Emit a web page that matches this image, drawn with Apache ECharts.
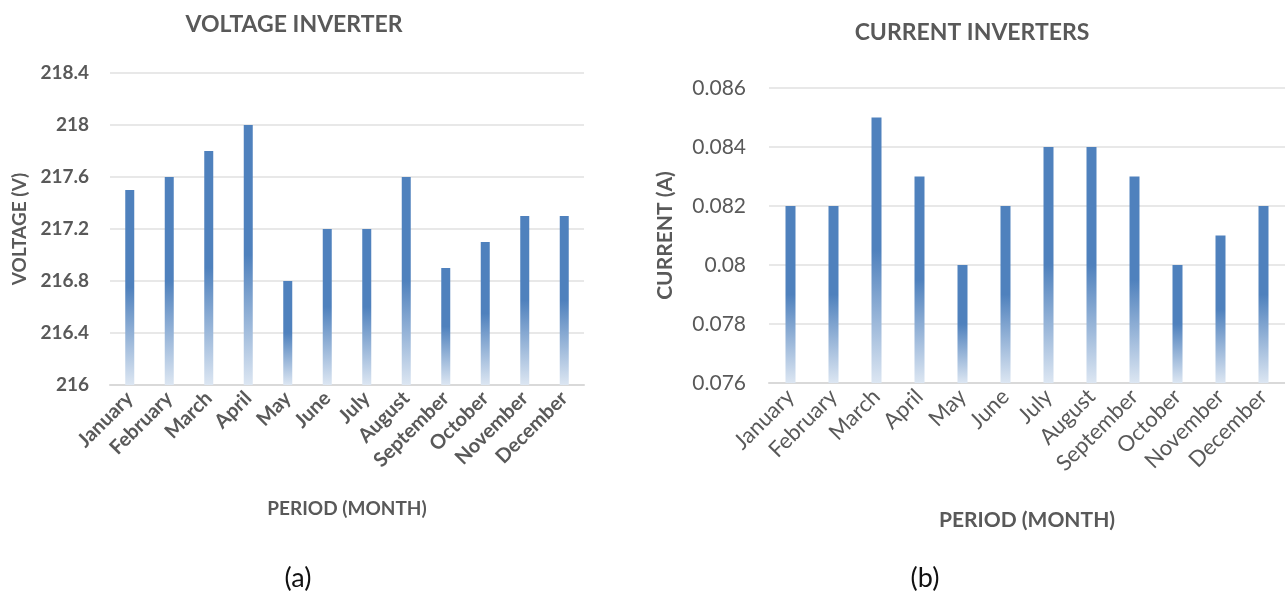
<!DOCTYPE html>
<html>
<head>
<meta charset="utf-8">
<script src="https://cdn.jsdelivr.net/npm/echarts@6/dist/echarts.min.js"></script>
<style>
  html, body { margin: 0; padding: 0; background: #fff; }
  #chart { width: 1285px; height: 593px; }
</style>
</head>
<body>
<div id="chart"></div>
<script>
// Monthly inverter readings
const months = ['January', 'February', 'March', 'April', 'May', 'June', 'July',
  'August', 'September', 'October', 'November', 'December'];
const voltage = [217.5, 217.6, 217.8, 218.0, 216.8, 217.2, 217.2, 217.6, 216.9, 217.1, 217.3, 217.3];
const current = [0.082, 0.082, 0.085, 0.083, 0.080, 0.082, 0.084, 0.084, 0.083, 0.080, 0.081, 0.082];

const FONT = 'Lato, "Open Sans", sans-serif';
const GREY = '#595959';

// Bars fade from solid blue in the upper half to a pale tint at the base
const barFill = new echarts.graphic.LinearGradient(0, 0, 0, 1, [
  { offset: 0, color: '#4F81BD' },
  { offset: 0.5, color: '#4F81BD' },
  { offset: 1, color: '#DCE6F2' }
]);

const chart = echarts.init(document.getElementById('chart'), null, { renderer: 'canvas' });

function catAxis(gridIndex, o) {
  return {
    type: 'category', gridIndex, data: months,
    axisTick: { show: false },
    axisLine: { lineStyle: { color: '#D9D9D9', width: 2 } },
    axisLabel: { interval: 0, rotate: 45, margin: 10, color: GREY, fontFamily: FONT,
      fontWeight: o.bold ? 'bold' : 'normal', fontSize: o.size },
    name: 'PERIOD (MONTH)', nameLocation: 'middle', nameGap: o.gap,
    nameTextStyle: { color: GREY, fontFamily: FONT, fontWeight: 'bold', fontSize: o.nameSize }
  };
}

function valAxis(gridIndex, o) {
  return {
    type: 'value', gridIndex, min: o.min, max: o.max, interval: o.interval,
    axisLine: { show: false }, axisTick: { show: false },
    splitLine: { lineStyle: { color: '#E0E0E0', width: 1.5 } },
    axisLabel: { margin: o.margin, color: GREY, fontFamily: FONT,
      fontWeight: o.bold ? 'bold' : 'normal', fontSize: o.size, formatter: o.fmt },
    name: o.name, nameLocation: 'middle', nameGap: o.gap,
    nameTextStyle: { color: GREY, fontFamily: FONT, fontWeight: 'bold', fontSize: o.nameSize }
  };
}

chart.setOption({
  animation: false,
  grid: [
    { left: 110, top: 73, width: 474, height: 312 },
    { left: 769, top: 88, width: 527, height: 295 }
  ],
  xAxis: [
    catAxis(0, { bold: true, size: 20, gap: 114, nameSize: 19 }),
    catAxis(1, { bold: false, size: 22, gap: 127, nameSize: 21 })
  ],
  yAxis: [
    valAxis(0, { min: 216, max: 218.4, interval: 0.4, name: 'VOLTAGE (V)', bold: true,
      size: 19, margin: 21, gap: 81, nameSize: 19, fmt: v => +v.toFixed(1) + '' }),
    valAxis(1, { min: 0.076, max: 0.086, interval: 0.002, name: 'CURRENT (A)', bold: false,
      size: 21, margin: 23, gap: 93, nameSize: 21, fmt: v => +v.toFixed(3) + '' })
  ],
  series: [
    { type: 'bar', xAxisIndex: 0, yAxisIndex: 0, data: voltage, barWidth: 9,
      itemStyle: { color: barFill } },
    { type: 'bar', xAxisIndex: 1, yAxisIndex: 1, data: current, barWidth: 10,
      itemStyle: { color: barFill } }
  ],
  graphic: [
    { type: 'text', x: 294, y: 25, style: { text: 'VOLTAGE INVERTER', fill: GREY,
      font: 'bold 23px ' + FONT, textAlign: 'center', textVerticalAlign: 'middle' } },
    { type: 'text', x: 972, y: 33, style: { text: 'CURRENT INVERTERS', fill: GREY,
      font: 'bold 23px ' + FONT, textAlign: 'center', textVerticalAlign: 'middle' } },
    { type: 'text', x: 298, y: 578, style: { text: '(a)', fill: '#111',
      font: '27px ' + FONT, textAlign: 'center', textVerticalAlign: 'middle' } },
    { type: 'text', x: 925, y: 578, style: { text: '(b)', fill: '#111',
      font: '27px ' + FONT, textAlign: 'center', textVerticalAlign: 'middle' } }
  ]
});
</script>
</body>
</html>
